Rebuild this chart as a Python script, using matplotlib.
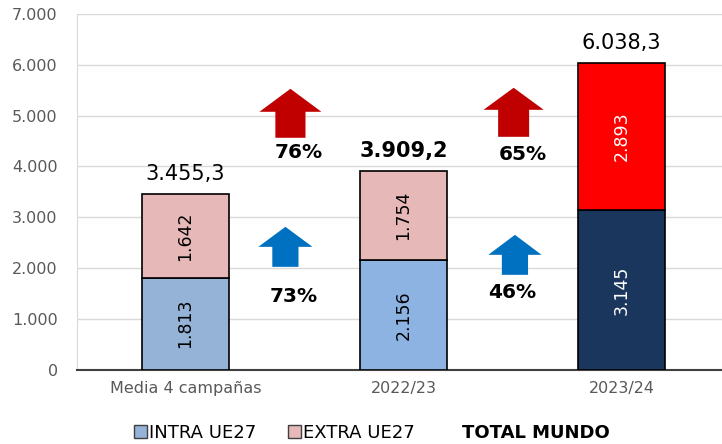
import matplotlib.pyplot as plt
from matplotlib.patches import Polygon, Patch
from matplotlib.ticker import FuncFormatter

categories = ['Media 4 campañas', '2022/23', '2023/24']
intra = [1813, 2156, 3145]
extra = [1642, 1754, 2893]
total_labels = ['3.455,3', '3.909,2', '6.038,3']
total_bold = [False, True, False]

intra_colors = ['#95B3D7', '#8DB3E2', '#1B365D']
extra_colors = ['#E6B9B8', '#E6B9B8', '#FF0000']
inner_text = ['black', 'black', 'white']

# growth vs 2023/24 (extra on top, intra below)
pct_extra = ['76%', '65%']
pct_intra = ['73%', '46%']

fig = plt.figure(figsize=(7.22, 4.44), dpi=100)
ax = fig.add_axes([0.107, 0.167, 0.893, 0.802])

x = range(len(categories))
totals = [a + b for a, b in zip(intra, extra)]
ax.bar(x, intra, width=0.4, color=intra_colors, edgecolor='black', linewidth=1.2, zorder=3)
ax.bar(x, extra, width=0.4, bottom=intra, color=extra_colors, edgecolor='black', linewidth=1.2, zorder=3)

for i in x:
    ax.text(i, intra[i] / 2, f'{intra[i]:,}'.replace(',', '.'), rotation=90, ha='center', va='center',
            fontsize=12.5, color=inner_text[i], zorder=4)
    ax.text(i, intra[i] + extra[i] / 2, f'{extra[i]:,}'.replace(',', '.'), rotation=90, ha='center',
            va='center', fontsize=12.5, color=inner_text[i], zorder=4)
    ax.annotate(total_labels[i], (i, totals[i]), xytext=(0, 14.5), textcoords='offset points',
                ha='center', va='center', fontsize=15,
                fontweight='bold' if total_bold[i] else 'normal')


def up_arrow(xc, y_bot, y_base, y_top, head_hw, shaft_hw, color):
    pts = [(xc - shaft_hw, y_bot), (xc + shaft_hw, y_bot), (xc + shaft_hw, y_base),
           (xc + head_hw, y_base), (xc, y_top), (xc - head_hw, y_base), (xc - shaft_hw, y_base)]
    ax.add_patch(Polygon(pts, closed=True, facecolor=color, edgecolor='none', zorder=3))


# arrows between bars
up_arrow(0.482, 4562, 5073, 5525, 0.142, 0.069, '#C00000')
up_arrow(0.459, 2025, 2418, 2812, 0.124, 0.060, '#0070C0')
up_arrow(1.505, 4581, 5112, 5545, 0.138, 0.071, '#C00000')
up_arrow(1.511, 1868, 2261, 2654, 0.122, 0.060, '#0070C0')

ax.text(0.518, 4267, pct_extra[0], ha='center', va='center', fontsize=14.5, fontweight='bold')
ax.text(0.495, 1435, pct_intra[0], ha='center', va='center', fontsize=14.5, fontweight='bold')
ax.text(1.546, 4228, pct_extra[1], ha='center', va='center', fontsize=14.5, fontweight='bold')
ax.text(1.500, 1514, pct_intra[1], ha='center', va='center', fontsize=14.5, fontweight='bold')

ax.set_ylim(0, 7000)
ax.set_xlim(-0.495, 2.46)
ax.set_yticks(range(0, 7001, 1000))
ax.yaxis.set_major_formatter(FuncFormatter(lambda v, p: f'{int(v):,}'.replace(',', '.')))
ax.set_xticks(list(x))
ax.set_xticklabels(categories)
ax.tick_params(axis='both', length=0, colors='#595959', labelsize=11.5)
ax.tick_params(axis='y', pad=14)
ax.tick_params(axis='x', pad=8)
ax.grid(axis='y', color='#D9D9D9', linewidth=1, zorder=0)
ax.set_axisbelow(True)
for s in ['top', 'right']:
    ax.spines[s].set_visible(False)
ax.spines['left'].set_color('#D9D9D9')
ax.spines['bottom'].set_color('#404040')
ax.spines['bottom'].set_linewidth(1.5)

handles = [Patch(facecolor=intra_colors[0], edgecolor='#404040'),
           Patch(facecolor=extra_colors[0], edgecolor='#404040'),
           Patch(facecolor='none', edgecolor='none')]
leg = fig.legend(handles, ['INTRA UE27', 'EXTRA UE27', 'TOTAL MUNDO'], loc='center',
                 bbox_to_anchor=(0.515, 0.025), ncol=3, frameon=False, fontsize=13,
                 handlelength=0.7, handleheight=0.7, handletextpad=0.1, columnspacing=1.8)
leg.get_texts()[2].set_fontweight('bold')

fig.savefig('out.png', dpi=100)
